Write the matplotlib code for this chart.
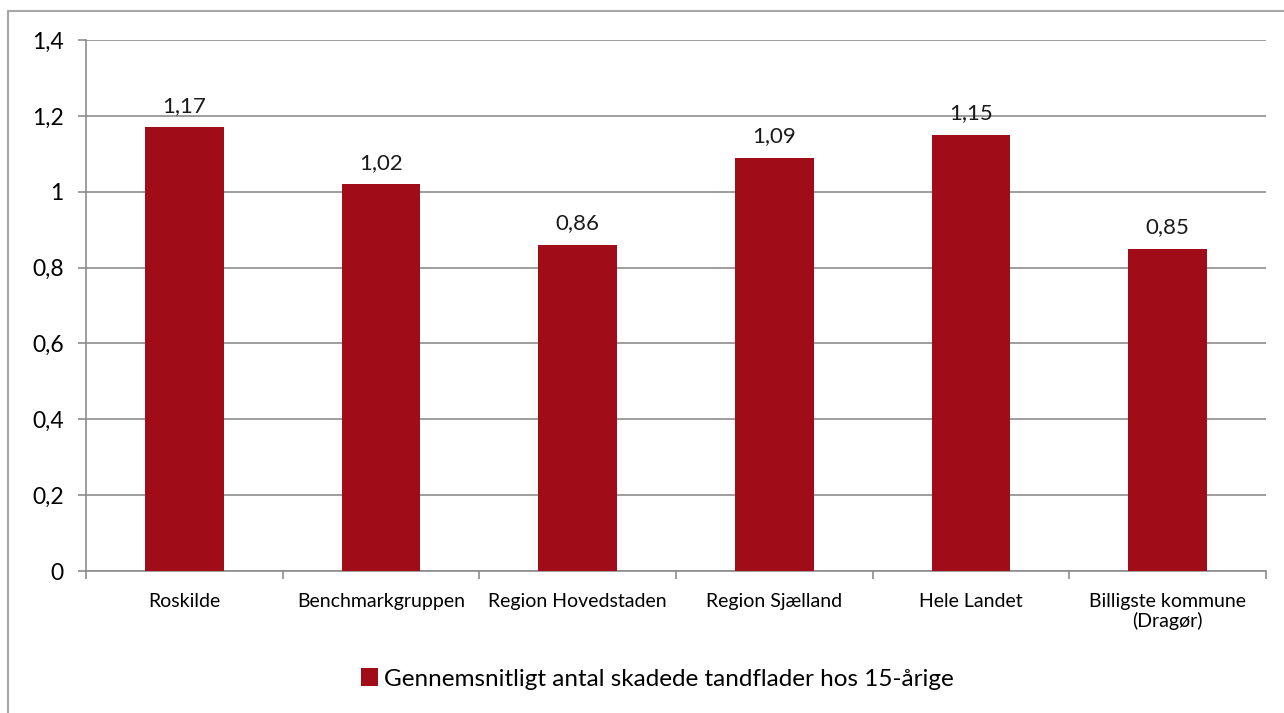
import matplotlib
matplotlib.use('Agg')
import matplotlib.pyplot as plt
from matplotlib.patches import Rectangle
from matplotlib.ticker import FuncFormatter
import numpy as np

plt.rcParams['font.family'] = ['Lato', 'DejaVu Sans']

categories = ['Roskilde', 'Benchmarkgruppen', 'Region Hovedstaden',
              'Region Sjælland', 'Hele Landet', 'Billigste kommune\n(Dragør)']
values = [1.17, 1.02, 0.86, 1.09, 1.15, 0.85]
series_name = 'Gennemsnitligt antal skadede tandflader hos 15-årige'
bar_color = '#A00C17'
grid_color = '#8C8C8C'

fig = plt.figure(figsize=(12.84, 7.13), dpi=100)
ax = fig.add_axes([86/1284, 1 - 571/713, (1266 - 86)/1284, (571 - 40)/713])

# outer chart frame (partly cut off like the reference)
fig.patches.append(Rectangle((8/1284, -0.05), 1.2, 1 - 11/713 + 0.05,
                             transform=fig.transFigure, fill=False,
                             edgecolor='#A6A6A6', linewidth=1.5))

x = np.arange(len(categories))
bars = ax.bar(x, values, width=0.4, color=bar_color, zorder=3,
              label=series_name)

for xi, v in zip(x, values):
    ax.text(xi, v + 0.03, f'{v:.2f}'.replace('.', ','), ha='center',
            va='bottom', fontsize=16, color='#1a1a1a')

ax.set_xlim(-0.5, len(categories) - 0.5)
ax.set_ylim(0, 1.4)
ax.set_yticks(np.arange(0, 1.41, 0.2))
ax.yaxis.set_major_formatter(FuncFormatter(
    lambda v, p: '0' if v == 0 else ('1' if abs(v - 1) < 1e-9 else f'{v:.1f}'.replace('.', ','))))
ax.grid(axis='y', color=grid_color, linewidth=1.2, zorder=0)

ax.set_xticks(x)
ax.set_xticklabels(categories, fontsize=14, linespacing=1.1)
ax.set_xticks(np.arange(-0.5, len(categories), 1), minor=True)
ax.tick_params(axis='x', which='major', length=0, pad=16)
ax.tick_params(axis='x', which='minor', length=6, color=grid_color, width=1.2)
ax.tick_params(axis='y', length=6, color=grid_color, width=1.2, labelsize=16.5, pad=10)

for s in ['top', 'right']:
    ax.spines[s].set_visible(False)
for s in ['left', 'bottom']:
    ax.spines[s].set_color(grid_color)
    ax.spines[s].set_linewidth(1.2)

fig.legend(handles=[bars], labels=[series_name], loc='center',
           bbox_to_anchor=(0.512, 1 - 679/713), frameon=False, fontsize=17.5,
           handlelength=0.7, handleheight=0.7, handletextpad=0.25)

fig.savefig('out.png', dpi=100)
